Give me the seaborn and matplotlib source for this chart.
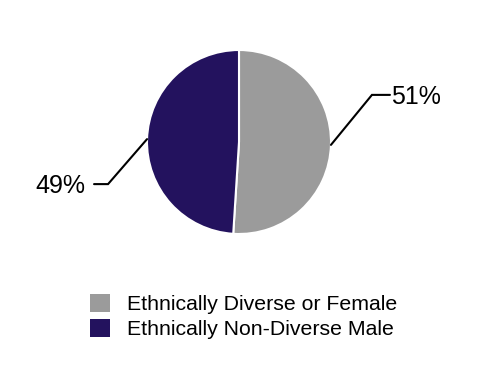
import numpy as np
import matplotlib.pyplot as plt
import seaborn as sns
from matplotlib.patches import Patch

# data
labels = ['Ethnically Diverse or Female', 'Ethnically Non-Diverse Male']
shares = [51, 49]
colors = ['#9b9b9b', '#23125e']

sns.set_style('white')
plt.rcParams['font.family'] = ['Liberation Sans', 'DejaVu Sans']
plt.rcParams['text.color'] = 'black'

fig = plt.figure(figsize=(4.78, 3.80), dpi=100)
ax = fig.add_axes([0, 0, 1, 1])

# work in pixel-like units, y up
cx, cy, r = 239, 238, 92
wedges, _ = ax.pie(shares, colors=colors, startangle=90, counterclock=False,
                   center=(cx, cy), radius=r,
                   wedgeprops=dict(edgecolor='white', linewidth=1.5))
ax.set_xlim(0, 478)
ax.set_ylim(0, 380)
ax.set_aspect('equal')
ax.axis('off')

# leader lines: (diagonal dx, dy, horizontal run)
leaders = [(41, 50, 18), (-39, -45, -14)]
for w, s, (ddx, ddy, hx) in zip(wedges, shares, leaders):
    ang = np.deg2rad((w.theta1 + w.theta2) / 2)
    x0, y0 = cx + r * np.cos(ang), cy + r * np.sin(ang)
    x1, y1 = x0 + ddx, y0 + ddy
    x2 = x1 + hx
    ax.plot([x0, x1, x2], [y0, y1, y1], color='black', lw=1.5,
            solid_joinstyle='miter')
    ha = 'left' if hx > 0 else 'right'
    ax.text(x2 + (1 if hx > 0 else -9), y1 - 2, f'{s}%', ha=ha, va='center',
            fontsize=18)

handles = [Patch(facecolor=c, edgecolor='none') for c in colors]
fig.legend(handles, labels, loc='upper left', bbox_to_anchor=(90 / 478, 1 - 294 / 380),
           frameon=False, fontsize=15.3, handlelength=0.94, handleheight=0.94,
           handletextpad=0.8, labelspacing=0.2, borderpad=0, borderaxespad=0)

fig.savefig('out.png', dpi=100)
